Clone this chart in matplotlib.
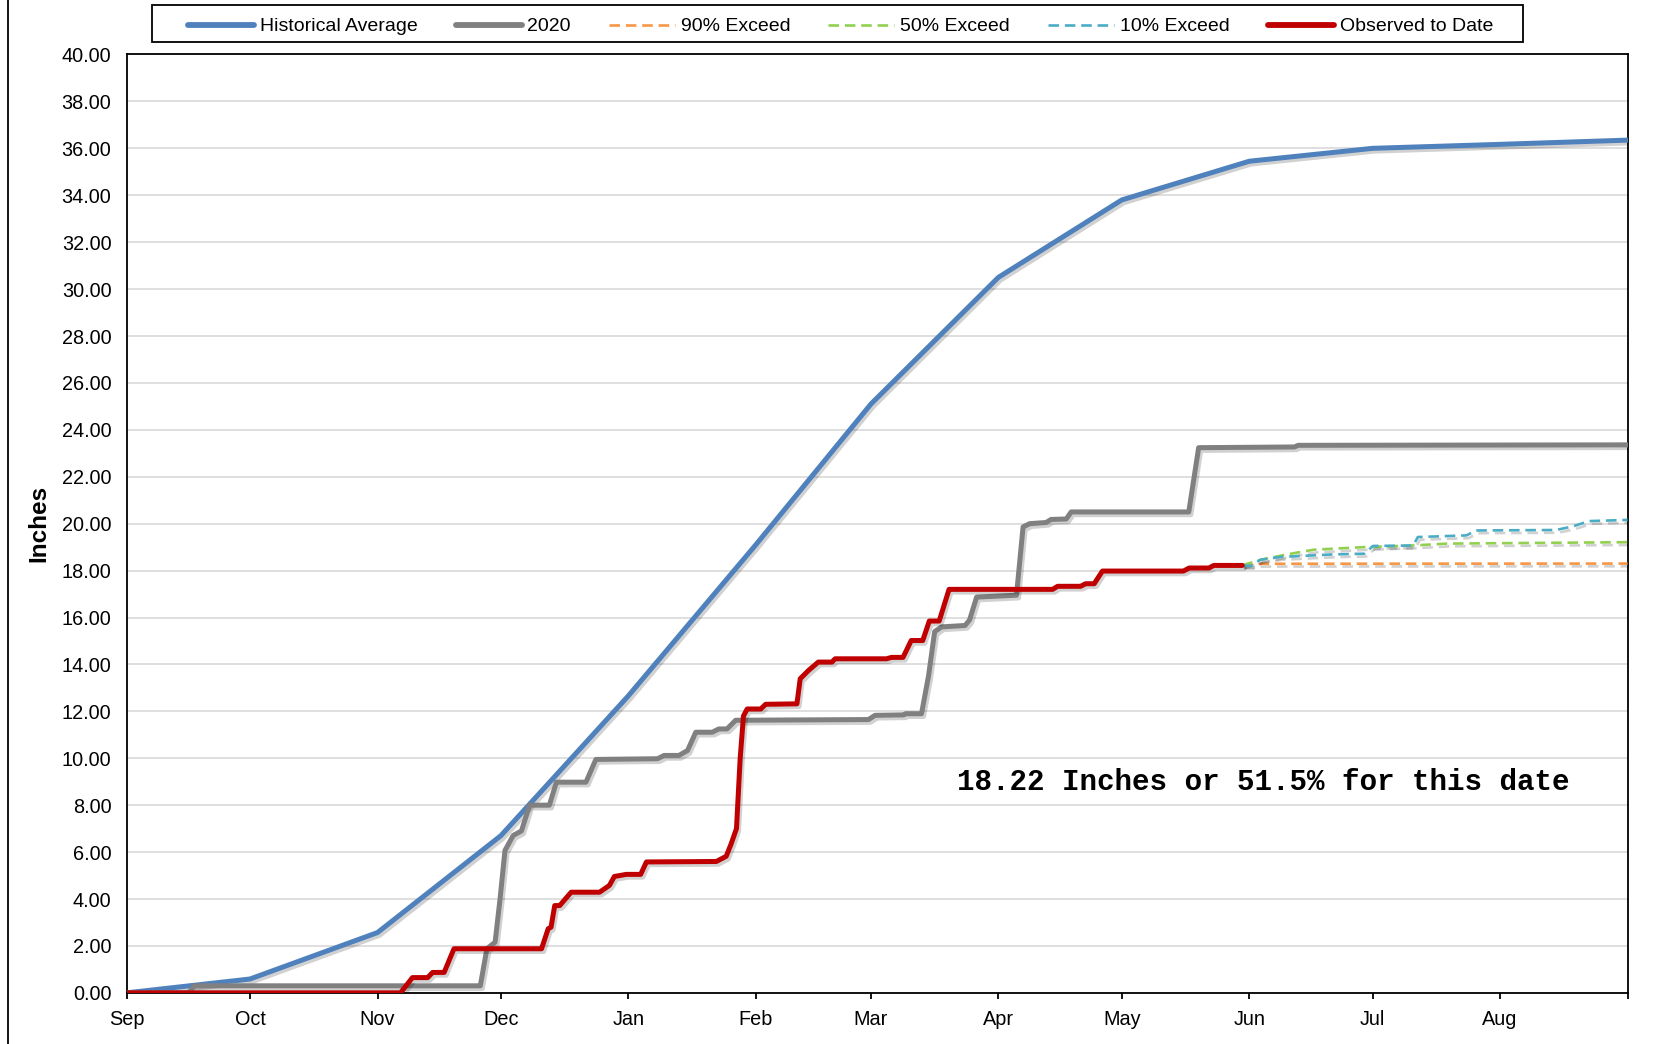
import matplotlib
matplotlib.use("Agg")
import matplotlib.pyplot as plt
import matplotlib.patheffects as pe
from matplotlib.lines import Line2D
from matplotlib.patches import Rectangle

# day of water year (0 = Sep 1), cumulative inches
month_days = [0, 30, 61, 91, 122, 153, 181, 212, 242, 273, 303, 334, 365]
month_labels = ["Sep", "Oct", "Nov", "Dec", "Jan", "Feb", "Mar", "Apr",
                "May", "Jun", "Jul", "Aug", ""]

hist_avg = [0.0, 0.59, 2.57, 6.7, 12.66, 19.1, 25.1, 30.5, 33.8, 35.45,
            36.0, 36.17, 36.35]

year_2020 = [(0, 0.0), (15, 0.0), (16.5, 0.3), (86, 0.3), (87.6, 1.88),
             (89.6, 2.16), (90.8, 4.0), (92, 6.07), (94, 6.71), (96, 6.9),
             (98, 8.0), (102.8, 8.0), (104.5, 8.98), (111.7, 8.98),
             (114.1, 9.95), (129.1, 9.98), (130.7, 10.12), (134.3, 10.12),
             (136.4, 10.33), (138.4, 11.11), (142.4, 11.11), (144, 11.25),
             (146, 11.25), (148.1, 11.62), (180.4, 11.65), (182, 11.83),
             (189, 11.85), (189.4, 11.9), (193.3, 11.9), (195, 13.5),
             (196.5, 15.4), (198.2, 15.6), (203.9, 15.66), (205, 15.9),
             (206.7, 16.87), (216.4, 16.95), (218, 19.86), (219.6, 20.0),
             (223.6, 20.05), (224.8, 20.18), (228.5, 20.2), (229.7, 20.5),
             (258.3, 20.5), (260.7, 23.24), (284, 23.27), (284.9, 23.34),
             (365, 23.36)]

observed = [(0, 0.0), (66.6, 0.0), (69.5, 0.65), (73.2, 0.65), (74.4, 0.87),
            (77.2, 0.87), (79.6, 1.88), (100.9, 1.88), (102.5, 2.73),
            (103.2, 2.8), (104.1, 3.72), (105.3, 3.72), (108.1, 4.29),
            (115, 4.29), (117.4, 4.58), (118.6, 4.96), (121.5, 5.05),
            (125, 5.05), (126.4, 5.58), (143.4, 5.6), (145.8, 5.82),
            (147, 6.35), (148.3, 7.0), (149.2, 10.0), (150.0, 11.8),
            (150.9, 12.1), (154.2, 12.1), (155.4, 12.3), (163, 12.32),
            (163.8, 13.39), (165.8, 13.74), (168.2, 14.1), (171.5, 14.1),
            (172.3, 14.24), (184.8, 14.24), (186, 14.3), (188.8, 14.3),
            (190.8, 15.02), (193.6, 15.02), (195.2, 15.85), (197.6, 15.85),
            (200, 17.2), (225.2, 17.2), (226.4, 17.33), (232, 17.33),
            (233.2, 17.44), (235.3, 17.44), (237.3, 17.98), (257, 17.98),
            (258.4, 18.11), (263.2, 18.11), (264.4, 18.22), (271.3, 18.22)]

exceed_90 = [(271.3, 18.22), (276, 18.29), (365, 18.3)]
exceed_50 = [(271.3, 18.22), (275.7, 18.46), (282.2, 18.69), (288.7, 18.89),
             (300.8, 19.0), (312.9, 19.07), (321, 19.15), (365, 19.21)]
exceed_10 = [(271.3, 18.22), (273.5, 18.2), (275.7, 18.46), (280.5, 18.58),
             (293.4, 18.69), (301, 18.72), (303.1, 19.05), (312.9, 19.07),
             (314, 19.43), (325.8, 19.5), (328.2, 19.71), (347.6, 19.73),
             (351.6, 19.88), (355.7, 20.11), (365, 20.16)]

note = "18.22 Inches or 51.5% for this date"

plt.rcParams["font.family"] = ["Liberation Sans", "DejaVu Sans"]

fig = plt.figure(figsize=(16.56, 10.44), dpi=100)
fig.patch.set_facecolor("white")
ax = fig.add_axes([0.0765, 0.049, 0.9063, 0.8988])

shadow = [pe.SimpleLineShadow(offset=(1.5, -2), shadow_color="black",
                              alpha=0.18), pe.Normal()]


def xy(pts):
    return [p[0] for p in pts], [p[1] for p in pts]


ax.plot(month_days, hist_avg, color="#4F81BD", lw=3.6,
        solid_capstyle="round", path_effects=shadow,
        label="Historical Average", zorder=3)
ax.plot(*xy(year_2020), color="#808080", lw=3.6, solid_capstyle="round",
        path_effects=shadow, label="2020", zorder=3)
ax.plot(*xy(exceed_90), color="#F79646", lw=1.9, ls=(0, (4, 2.2)),
        path_effects=shadow, label="90% Exceed", zorder=4)
ax.plot(*xy(exceed_50), color="#92D050", lw=1.9, ls=(0, (4, 2.2)),
        path_effects=shadow, label="50% Exceed", zorder=4)
ax.plot(*xy(exceed_10), color="#4BACC6", lw=1.9, ls=(0, (4, 2.2)),
        path_effects=shadow, label="10% Exceed", zorder=4)
ax.plot(*xy(observed), color="#C00000", lw=3.6, solid_capstyle="round",
        path_effects=shadow, label="Observed to Date", zorder=5)

ax.set_xlim(0, 365)
ax.set_ylim(0, 40)
ax.set_yticks(range(0, 41, 2))
ax.set_yticklabels([f"{v:.2f}" for v in range(0, 41, 2)])
ax.set_xticks(month_days)
ax.set_xticklabels(month_labels)
ax.tick_params(axis="y", length=0, pad=11, labelsize=14.3)
ax.tick_params(axis="x", length=4, width=1.3, direction="out", pad=8,
               labelsize=14.3)
ax.grid(axis="y", color="#D9D9D9", lw=1.2)
ax.set_axisbelow(True)
for s in ax.spines.values():
    s.set_linewidth(1.3)
    s.set_color("black")

ax.set_ylabel("Inches", fontsize=17.5, fontweight="bold")
ax.yaxis.set_label_coords(-0.051, 0.5)

ax.text(201.9, 8.97, note, fontsize=21.1, fontweight="bold",
        family=["Liberation Mono", "DejaVu Sans Mono"],
        ha="left", va="center", zorder=6)

# legend box drawn separately (the Excel box has wide side padding)
fig.add_artist(Rectangle((152 / 1656, 1 - 42 / 1044), (1523 - 152) / 1656,
                         37 / 1044, transform=fig.transFigure,
                         facecolor="white", edgecolor="black", lw=1.3))
leg = fig.legend(*ax.get_legend_handles_labels(), loc="center",
                 bbox_to_anchor=(0.5075, 0.9745), ncol=6, fontsize=14,
                 frameon=False, handlelength=3.4, handletextpad=0.3,
                 columnspacing=1.95)
for h in leg.get_lines():
    h.set_path_effects([])
    if h.get_linewidth() > 3:
        h.set_linewidth(4.2)

fig.add_artist(Line2D([0.005, 0.005], [0, 1], color="black", lw=1.3,
                      transform=fig.transFigure))

plt.savefig("out.png", dpi=100, facecolor="white")
plt.close()
